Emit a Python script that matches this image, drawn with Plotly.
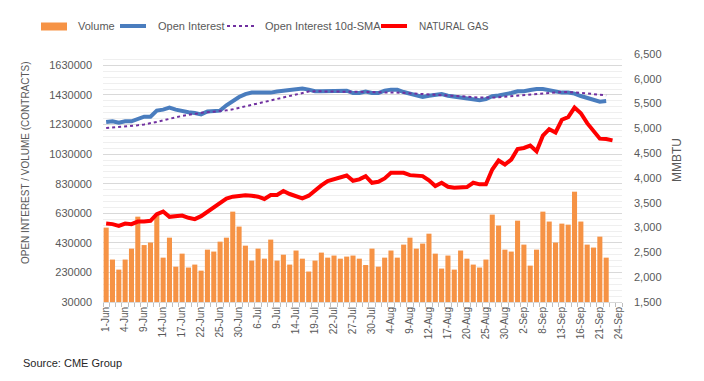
import plotly.graph_objects as go

# ---- categories (trading days, 2021) ----
june = [1, 2, 3, 4, 7, 8, 9, 10, 11, 14, 15, 16, 17, 18, 21, 22, 23, 24, 25, 28, 29, 30]
july = [1, 2, 6, 7, 8, 9, 12, 13, 14, 15, 16, 19, 20, 21, 22, 23, 26, 27, 28, 29, 30]
aug = [2, 3, 4, 5, 6, 9, 10, 11, 12, 13, 16, 17, 18, 19, 20, 23, 24, 25, 26, 27, 30, 31]
sep = [1, 2, 3, 7, 8, 9, 10, 13, 14, 15, 16, 17, 20, 21, 22, 23, 24]
categories = ([f"{d}-Jun" for d in june] + [f"{d}-Jul" for d in july]
              + [f"{d}-Aug" for d in aug] + [f"{d}-Sep" for d in sep])
tick_labels = [c if i % 3 == 0 else "" for i, c in enumerate(categories)]

# ---- series values ----
volume = [533000, 317000, 249000, 317000, 391000, 607000, 415000, 432000, 623000, 330000,
          465000, 269000, 357000, 263000, 283000, 242000, 384000, 371000, 438000, 465000,
          641000, 540000, 411000, 310000, 391000, 323000, 452000, 310000, 350000, 283000,
          378000, 323000, 236000, 310000, 364000, 330000, 344000, 323000, 337000, 344000,
          323000, 280000, 391000, 269000, 330000, 378000, 330000, 418000, 465000, 391000,
          425000, 492000, 357000, 256000, 344000, 249000, 378000, 323000, 283000, 263000,
          317000, 621000, 547000, 384000, 371000, 580000, 418000, 276000, 384000, 641000,
          574000, 432000, 560000, 553000, 776000, 574000, 418000, 398000, 472000, 330000]

open_interest = [1247000, 1252000, 1243000, 1252000, 1252000, 1270000, 1283000, 1283000, 1324000, 1331000,
                 1344000, 1331000, 1319000, 1313000, 1308000, 1299000, 1319000, 1319000, 1324000, 1360000,
                 1389000, 1416000, 1436000, 1446000, 1446000, 1446000, 1446000, 1453000, 1459000, 1463000,
                 1470000, 1473000, 1466000, 1455000, 1455000, 1455000, 1455000, 1455000, 1459000, 1443000,
                 1443000, 1453000, 1443000, 1443000, 1459000, 1466000, 1466000, 1450000, 1439000, 1430000,
                 1416000, 1425000, 1430000, 1436000, 1425000, 1419000, 1414000, 1409000, 1405000, 1394000,
                 1402000, 1421000, 1427000, 1432000, 1443000, 1455000, 1455000, 1463000, 1470000, 1470000,
                 1461000, 1450000, 1446000, 1446000, 1439000, 1423000, 1409000, 1400000, 1385000, 1389000]

oi_sma10 = [1206000, 1209000, 1211000, 1215000, 1218000, 1225000, 1231000, 1238000, 1248000, 1258000,
            1270000, 1279000, 1288000, 1296000, 1304000, 1309000, 1313000, 1316000, 1319000, 1326000,
            1333000, 1343000, 1353000, 1365000, 1375000, 1387000, 1397000, 1407000, 1416000, 1426000,
            1436000, 1446000, 1453000, 1455000, 1455000, 1455000, 1455000, 1455000, 1455000, 1452000,
            1450000, 1450000, 1450000, 1448000, 1448000, 1448000, 1448000, 1445000, 1441000, 1439000,
            1436000, 1434000, 1432000, 1430000, 1427000, 1425000, 1423000, 1419000, 1414000, 1412000,
            1411000, 1412000, 1414000, 1418000, 1421000, 1425000, 1430000, 1434000, 1439000, 1443000,
            1446000, 1448000, 1450000, 1450000, 1448000, 1445000, 1441000, 1436000, 1432000, 1427000]

natural_gas = [3082, 3070, 3036, 3082, 3070, 3122, 3122, 3136, 3271, 3323,
               3217, 3237, 3243, 3197, 3170, 3231, 3317, 3417, 3497, 3583,
               3623, 3643, 3651, 3643, 3623, 3577, 3657, 3657, 3737, 3677,
               3637, 3591, 3643, 3751, 3852, 3938, 3972, 4024, 4050, 3945,
               3972, 4038, 3904, 3924, 3992, 4104, 4104, 4104, 4058, 4038,
               4038, 3952, 3837, 3904, 3823, 3803, 3817, 3817, 3904, 3872,
               3872, 4172, 4352, 4272, 4372, 4585, 4605, 4653, 4539, 4853,
               4985, 4919, 5174, 5226, 5420, 5306, 5105, 4959, 4793, 4785,
               4759]

# ---- layout geometry (pixels) ----
W, H = 704, 381
ML, MR, MT, MB = 103, 82, 54, 79
PW, PH = W - ML - MR, H - MT - MB


def px(x):
    return (x - ML) / PW


def py(y):
    return (H - MB - y) / PH


TXT = "#595959"
FONT = "Liberation Sans, Arial, sans-serif"

BAR_C = "#F69345"
OI_C = "#4A7DBE"
SMA_C = "#7030A0"
NG_C = "#FF0000"

fig = go.Figure()
fig.add_trace(go.Bar(x=categories[:len(volume)], y=volume, name="Volume",
                     marker=dict(color=BAR_C, line=dict(width=0)), showlegend=False))
fig.add_trace(go.Scatter(x=categories[:len(open_interest)], y=open_interest, name="Open Interest",
                         mode="lines", line=dict(color=OI_C, width=4), showlegend=False))
fig.add_trace(go.Scatter(x=categories[:len(oi_sma10)], y=oi_sma10, name="Open Interest 10d-SMA",
                         mode="lines", line=dict(color=SMA_C, width=2, dash="dot"), showlegend=False))
fig.add_trace(go.Scatter(x=categories[:len(natural_gas)], y=natural_gas, name="NATURAL GAS",
                         mode="lines", line=dict(color=NG_C, width=4), yaxis="y2", showlegend=False))

fig.update_layout(
    width=W, height=H,
    margin=dict(l=ML, r=MR, t=MT, b=MB, pad=0),
    paper_bgcolor="white", plot_bgcolor="white",
    font=dict(family=FONT, color=TXT, size=11),
    bargap=0.2,
    hovermode=False,
    xaxis=dict(
        type="category", categoryorder="array", categoryarray=categories,
        range=[-0.5, len(categories) - 0.5],
        tickmode="array", tickvals=categories, ticktext=tick_labels,
        tickangle=-90, tickfont=dict(size=10, color=TXT),
        ticks="outside", tickson="boundaries", ticklen=4, tickcolor="#bfbfbf",
        showline=True, linecolor="#d9d9d9", linewidth=1,
        showgrid=False, zeroline=False, fixedrange=True,
    ),
    yaxis=dict(
        range=[30000, 1707000], tick0=30000, dtick=200000, tickformat="d",
        showgrid=True, gridcolor="#d9d9d9", gridwidth=1,
        minor=dict(tick0=30000, dtick=40000, showgrid=True, gridcolor="#efefef", gridwidth=1),
        zeroline=False, showline=False, ticks="", ticklabelstandoff=10,
        tickfont=dict(size=11, color=TXT), fixedrange=True,
    ),
    yaxis2=dict(
        overlaying="y", side="right", range=[1500, 6500], tick0=1500, dtick=500,
        tickformat=",", showgrid=False, zeroline=False, showline=False, ticks="",
        ticklabelstandoff=11, tickfont=dict(size=11, color=TXT), fixedrange=True,
    ),
)

# ---- legend (drawn manually to match the Excel style) ----
shapes = [
    dict(type="rect", xref="paper", yref="paper", x0=px(41), x1=px(67), y0=py(30.5), y1=py(22.5),
         fillcolor=BAR_C, line=dict(width=0)),
    dict(type="line", xref="paper", yref="paper", x0=px(120), x1=px(146), y0=py(26), y1=py(26),
         line=dict(color=OI_C, width=4)),
    dict(type="line", xref="paper", yref="paper", x0=px(227), x1=px(254), y0=py(26), y1=py(26),
         line=dict(color=SMA_C, width=2, dash="dot")),
    dict(type="line", xref="paper", yref="paper", x0=px(381), x1=px(407), y0=py(26), y1=py(26),
         line=dict(color=NG_C, width=4)),
]
legend_items = [("Volume", 76, 11), ("Open Interest", 156, 11),
                ("Open Interest 10d-SMA", 263, 11), ("NATURAL GAS", 417, 10)]
annotations = []
for text, xpix, fsize in legend_items:
    annotations.append(dict(text=text, x=px(xpix), y=py(26), xref="paper", yref="paper",
                            xanchor="left", yanchor="middle", showarrow=False,
                            font=dict(size=fsize, color=TXT, family=FONT)))

annotations += [
    dict(text="OPEN INTEREST / VOLUME (CONTRACTS)", x=px(25), y=py(163), xref="paper", yref="paper",
         textangle=-90, showarrow=False, xanchor="center", yanchor="middle",
         font=dict(size=10, color=TXT, family=FONT)),
    dict(text="MMBTU", x=px(677), y=py(160), xref="paper", yref="paper",
         textangle=-90, showarrow=False, xanchor="center", yanchor="middle",
         font=dict(size=12, color=TXT, family=FONT)),
    dict(text="Source: CME Group", x=px(21), y=py(363), xref="paper", yref="paper",
         showarrow=False, xanchor="left", yanchor="middle",
         font=dict(size=11, color="#262626", family=FONT)),
]
fig.update_layout(shapes=shapes, annotations=annotations)

fig.write_html("out.html",
               config={"displayModeBar": False, "staticPlot": True},
               post_script="document.body.style.margin='0';document.body.style.padding='0';")
